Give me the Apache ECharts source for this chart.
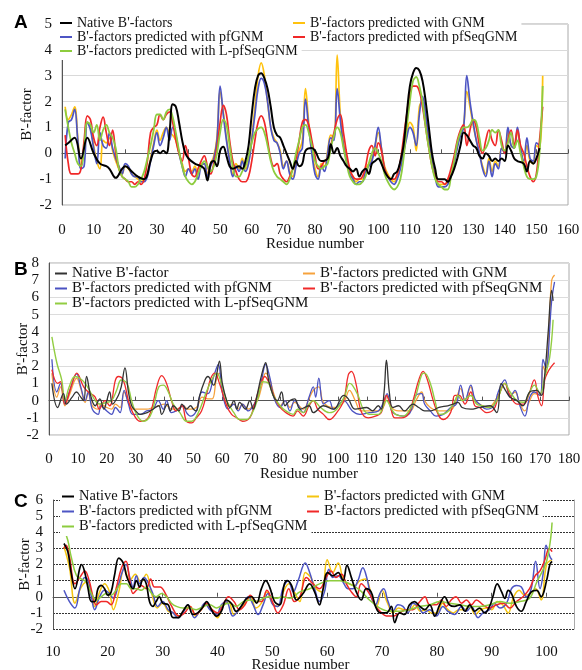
<!DOCTYPE html>
<html>
<head>
<meta charset="utf-8">
<script src="https://cdn.jsdelivr.net/npm/echarts@6/dist/echarts.min.js"></script>
<style>
  html, body { margin: 0; padding: 0; background: #fff; }
  #chart { width: 582px; height: 670px; }
</style>
</head>
<body>
<div id="chart"></div>
<script>
"use strict";
// 数据：残基号与B'-factor
var nativeA = [[1,0.3],[2,0.4],[4,0.6],[6,-0.2],[8,0.6],[10,0],[12,-0.4],[14,-0.5],[15,-0.6],[17,-0.95],[19,-0.6],[20,-0.5],[22,-0.7],[24,-0.9],[26,-1.0],[28,-0.3],[29,0.05],[30,0.1],[31,0],[32,0.1],[33,0],[34,0.8],[35,1.9],[36,1.8],[37,1.2],[38,0.5],[39,0],[40,-0.2],[42,-0.4],[44,-0.5],[45,-0.6],[46,-1.05],[47,-0.4],[48,-0.3],[49,-0.5],[50,0.1],[51,0.25],[52,-0.1],[53,-0.5],[54,-0.6],[56,-0.5],[57,-0.6],[58,-0.3],[59,0.3],[60,1.5],[61,2.5],[62,3.0],[63,3.1],[64,2.9],[65,2.5],[66,1.8],[67,1.0],[68,0.7],[69,0.6],[70,0.3],[72,-0.3],[73,-0.6],[74,-0.3],[75,-0.5],[76,-0.4],[77,0.1],[79,0.2],[80,0.1],[82,-0.3],[84,-0.2],[85,0.35],[86,0],[87,0.2],[88,-0.1],[89,-0.3],[90,-0.5],[91,-0.6],[92,-0.7],[93,-0.6],[94,-0.9],[95,-0.7],[96,-0.6],[97,-0.8],[98,-0.4],[99,-0.3],[100,-0.2],[101,-0.4],[102,-0.7],[103,-0.9],[104,-1.0],[105,-0.8],[106,-0.7],[107,-0.3],[108,0.3],[109,1.5],[110,2.6],[111,3.1],[112,3.3],[113,3.2],[114,2.8],[115,2.0],[116,1.0],[117,0],[118,-0.6],[119,-1.0],[121,-1.0],[122,-1.1],[123,-0.9],[124,-0.6],[125,-0.2],[126,0.3],[127,0.8],[128,0.7],[129,0.5],[130,0.3],[131,0.2],[132,-0.1],[133,-0.2],[134,0],[135,-0.1],[136,-0.3],[137,-0.2],[138,-0.3],[139,-0.2],[140,-0.3],[141,0.3],[142,0.1],[143,-0.2],[144,-0.3],[146,-0.4],[147,-0.7],[148,-0.3],[149,-0.4],[150,-0.2],[151,0.2]];
var gnmA = [[1,1.8],[2,1.3],[3,1.5],[4,1.8],[5,0.6],[6,-0.5],[7,0.3],[8,1.2],[9,1.0],[10,0.3],[11,-0.3],[12,-0.6],[13,0.5],[14,0.4],[15,0.6],[16,0.1],[17,-0.3],[18,-0.6],[19,-0.8],[20,-0.5],[21,-0.6],[22,-0.8],[23,-0.9],[24,-1.0],[25,-1.1],[26,-1.0],[27,-0.8],[28,-0.2],[29,0.4],[30,0.9],[31,0.5],[32,0.8],[33,1.0],[34,0.8],[35,0.7],[36,0.5],[37,0],[38,-0.4],[39,-0.7],[40,-0.6],[41,-0.7],[42,-0.5],[43,-0.8],[44,-0.4],[45,-0.4],[46,-0.8],[47,-0.4],[48,-0.1],[49,0.6],[50,2.4],[51,1.6],[52,0.6],[53,-0.2],[54,-0.8],[55,-0.4],[56,-0.6],[57,-0.2],[58,-0.6],[59,-0.3],[60,0.6],[61,1.8],[62,3.0],[63,3.5],[64,3.0],[65,2.0],[66,1.0],[67,0.6],[68,0.4],[69,0.1],[70,-0.5],[71,-0.3],[72,-0.7],[73,-0.9],[74,-0.4],[75,0.1],[76,0.5],[77,2.5],[78,1.2],[79,0.1],[80,-0.6],[81,-0.9],[82,-0.4],[83,-0.5],[84,0.1],[85,0.7],[86,0.6],[87,3.8],[88,1.5],[89,0.4],[90,-0.2],[91,-0.7],[92,-0.9],[93,-1.1],[94,-1.0],[95,-1.0],[96,-0.6],[97,-0.4],[98,-0.2],[99,0.3],[100,0.8],[101,0.2],[102,-0.5],[103,-0.8],[104,-1.0],[105,-1.1],[106,-0.9],[107,-0.5],[108,0.1],[109,0.7],[110,1.2],[111,1.0],[112,0.1],[113,1.8],[114,2.0],[115,1.4],[116,0.5],[117,-0.2],[118,-0.8],[119,-1.2],[120,-1.2],[121,-1.2],[122,-1.1],[123,-0.8],[124,-0.3],[125,0.3],[126,0.8],[127,1.1],[128,2.4],[129,1.8],[130,1.1],[131,0.5],[132,0],[133,-0.5],[134,-0.8],[135,-0.2],[136,-0.7],[137,-0.3],[138,-0.5],[139,0.2],[140,0.1],[141,0.8],[142,0.3],[143,0.2],[144,0.8],[145,0.2],[146,-0.4],[147,0.3],[148,-0.3],[149,-0.4],[150,0.3],[151,0.2],[152,3.0]];
var pfgnmA = [[1,-0.2],[2,1.2],[3,1.3],[4,1.7],[5,0.5],[6,-0.6],[7,-0.5],[8,1.2],[9,0.9],[10,0.2],[11,-0.4],[12,0.8],[13,0.3],[14,0.2],[15,0.8],[16,0.2],[17,-0.2],[18,-0.5],[19,-0.8],[20,-0.4],[21,-0.5],[22,-0.8],[23,-0.9],[24,-0.9],[25,-1.1],[26,-1.1],[27,-0.9],[28,-0.3],[29,0.3],[30,0.8],[31,0.3],[32,0.6],[33,1.0],[34,0.5],[35,1.0],[36,0.7],[37,0],[38,-0.5],[39,-0.9],[40,-0.6],[41,-0.8],[42,-0.6],[43,-1.0],[44,-0.5],[45,-0.4],[46,-0.9],[47,-0.5],[48,-0.2],[49,0.5],[50,2.6],[51,1.5],[52,0.5],[53,-0.3],[54,-0.9],[55,-0.5],[56,-0.7],[57,-0.3],[58,-0.7],[59,-0.4],[60,0.5],[61,1.5],[62,2.5],[63,2.9],[64,2.7],[65,2.0],[66,1.0],[67,0.5],[68,0.4],[69,0],[70,-0.6],[71,-0.3],[72,-0.8],[73,-1.0],[74,-0.5],[75,0],[76,0.2],[77,2.1],[78,1.0],[79,0],[80,-0.8],[81,-1.0],[82,-0.5],[83,-0.7],[84,0],[85,0.6],[86,0.5],[87,2.5],[88,1.3],[89,0.3],[90,-0.3],[91,-0.8],[92,-1.0],[93,-1.2],[94,-1.1],[95,-1.1],[96,-0.7],[97,-0.5],[98,-0.3],[99,0.3],[100,1.0],[101,0.2],[102,-0.6],[103,-0.9],[104,-1.1],[105,-1.2],[106,-1.0],[107,-0.6],[108,0],[109,0.6],[110,1.0],[111,0.8],[112,0.3],[113,1.5],[114,2.2],[115,1.5],[116,0.5],[117,-0.3],[118,-0.9],[119,-1.3],[120,-1.3],[121,-1.3],[122,-1.2],[123,-0.9],[124,-0.4],[125,0.2],[126,0.7],[127,1.0],[128,3.0],[129,2.0],[130,1.2],[131,0.5],[132,0],[133,-0.6],[134,-0.9],[135,-0.3],[136,-0.9],[137,-0.4],[138,-0.6],[139,0.2],[140,0],[141,1.0],[142,0.3],[143,0.2],[144,1.0],[145,0.2],[146,-0.3],[147,0.6],[148,-0.2],[149,-0.3],[150,0.4],[151,0.3]];
var pfseqA = [[1,0.7],[2,-0.4],[3,-0.8],[5,-0.8],[6,-0.6],[7,0.5],[8,1.45],[9,1.3],[10,0.6],[11,0.3],[12,1.0],[13,1.4],[14,0.8],[15,0.3],[16,0.9],[17,0],[18,-0.6],[19,-0.9],[20,-1.0],[21,-1.1],[22,-1.1],[23,-1.2],[24,-1.1],[25,-1.2],[26,-1.0],[27,-0.3],[28,0.8],[29,1.0],[30,1.1],[31,1.5],[32,1.3],[33,1.5],[34,1.6],[35,1.2],[36,0.5],[37,0],[38,-0.3],[39,0.3],[40,-0.2],[41,-0.8],[42,-0.9],[43,-0.6],[44,-0.3],[45,-0.1],[46,-0.5],[47,-0.8],[48,-0.4],[49,0.2],[50,1.2],[51,1.85],[52,1.5],[53,0.5],[54,-0.3],[55,-0.7],[56,-1.0],[57,-1.1],[58,-1.1],[59,-0.9],[60,-0.3],[61,0.5],[62,1.2],[63,1.45],[64,1.2],[65,0.5],[66,-0.2],[67,-0.5],[68,-0.4],[69,-0.8],[70,-1.0],[71,-1.1],[72,-0.9],[73,-0.6],[74,-0.2],[75,0.5],[76,1.2],[77,1.3],[78,1.1],[79,0.5],[80,-0.1],[81,-0.6],[82,-0.5],[83,-0.3],[84,-0.2],[85,0.3],[86,0.8],[87,1.3],[88,1.5],[89,0.8],[90,0],[91,-0.6],[92,-0.9],[93,-1.0],[94,-1.0],[95,-0.9],[96,-0.5],[97,0.1],[98,0.3],[99,-0.1],[100,0.4],[101,0.1],[102,-0.6],[103,-0.9],[104,-1.0],[105,-1.0],[106,-0.8],[107,-0.3],[108,0.6],[109,1.5],[110,2.3],[111,2.6],[112,2.6],[113,2.4],[114,1.8],[115,1.0],[116,0.2],[117,-0.5],[118,-0.9],[119,-1.1],[120,-1.1],[121,-1.2],[122,-1.0],[123,-0.6],[124,-0.1],[125,0.5],[126,0.9],[127,1.1],[128,0.3],[129,0.9],[130,1.3],[131,1.0],[132,0.3],[133,0],[134,0.5],[135,0.9],[136,0.5],[137,0.3],[138,0.9],[139,0.5],[140,0],[141,0.5],[142,0.9],[143,0.3],[144,0.9],[145,0.3],[146,0],[147,-0.5],[148,-0.9],[149,-1.1],[150,-0.8],[151,0.5],[152,1.8]];
var lpfseqA = [[1,1.7],[2,1.0],[3,0.4],[4,0],[5,-0.4],[6,-0.5],[7,0.2],[8,1.2],[9,1.1],[10,0.8],[11,1.1],[12,0.5],[13,0.9],[14,1.1],[15,0.8],[16,0.6],[17,0.2],[18,-0.6],[19,-0.9],[20,-1.0],[21,-1.1],[22,-1.3],[23,-1.3],[24,-1.2],[25,-1.0],[26,-0.7],[27,-0.2],[28,0.3],[29,0.9],[30,1.5],[31,1.5],[32,1.3],[33,1.6],[34,1.7],[35,1.4],[36,0.8],[37,0.1],[38,-0.5],[39,-0.9],[40,-1.1],[41,-1.2],[42,-1.1],[43,-0.8],[44,-0.5],[45,-0.3],[46,-0.5],[47,-0.7],[48,-0.5],[49,0],[50,0.8],[51,1.3],[52,1.1],[53,0.3],[54,-0.5],[55,-0.9],[56,-0.9],[57,-0.7],[58,-0.5],[59,-0.1],[60,0.4],[61,0.8],[62,0.95],[63,1.0],[64,0.8],[65,0.3],[66,-0.3],[67,-0.7],[68,-0.9],[69,-1.0],[70,-1.1],[71,-1.2],[72,-1.0],[73,-0.6],[74,0],[75,0.5],[76,1.0],[77,1.1],[78,0.8],[79,0.3],[80,-0.3],[81,-0.5],[82,-0.6],[83,-0.5],[84,-0.4],[85,0.2],[86,0.7],[87,1.0],[88,0.8],[89,0.2],[90,-0.4],[91,-0.9],[92,-1.1],[93,-1.2],[94,-1.2],[95,-1.1],[96,-0.9],[97,-0.4],[98,0],[99,0.2],[100,0],[101,-0.3],[102,-0.8],[103,-1.1],[104,-1.3],[105,-1.4],[106,-1.3],[107,-1.0],[108,-0.2],[109,1.0],[110,2.0],[111,2.8],[112,2.95],[113,2.6],[114,2.0],[115,1.0],[116,0.2],[117,-0.5],[118,-1.0],[119,-1.2],[120,-1.3],[121,-1.4],[122,-1.4],[123,-0.9],[124,-0.3],[125,0.4],[126,0.8],[127,1.0],[128,1.0],[129,1.1],[130,1.3],[131,1.2],[132,0.6],[133,0.1],[134,0.2],[135,0.5],[136,0.9],[137,0.8],[138,0.9],[139,0.3],[140,0.1],[141,0.4],[142,0.8],[143,0.2],[144,0.5],[145,0],[146,-0.5],[147,-0.9],[148,-1.0],[149,-1.0],[150,-0.9],[151,0],[152,2.6]];

var nativeB = [[1,1.0],[3,-0.4],[5,0.4],[6,-0.2],[8,0.2],[9.5,0.5],[11,0.2],[12,0],[13,1.4],[14.4,0.3],[16,-0.3],[17.6,0.1],[19,-0.5],[20,0],[21,0.5],[22,-0.2],[24,0.3],[25,0.8],[26.3,1.9],[27.5,0.5],[28.6,-0.3],[30,-0.6],[31.5,-0.8],[34,-0.7],[36,-0.5],[38,-0.3],[39,-0.8],[41,-0.2],[42,-0.6],[43,-0.3],[45,-0.6],[46,-0.2],[47.6,-0.5],[49,-0.3],[50,-0.5],[51,-0.6],[52,0.2],[54,1.2],[55,1.4],[57,0.9],[58,1.5],[59,2.3],[60,1.0],[61.5,0],[62.6,-0.4],[64,0],[65,-0.5],[66,-0.1],[68,-0.5],[69.5,0],[70.7,-0.5],[72,0.3],[73.6,1.5],[75,2.2],[76,1.2],[77.6,0.3],[79,0],[80.5,0.5],[81.7,-0.3],[83.4,0],[85,0.1],[87,-0.5],[90,-0.3],[91.5,-0.7],[95,-0.3],[98.5,-0.5],[102,0.3],[103.6,0.1],[106,-0.5],[110,-0.4],[112,-0.6],[114,-0.3],[115,-0.5],[116,0.5],[116.8,2.35],[117.8,0.5],[119,-0.4],[121,-0.3],[123,-0.6],[126,-0.2],[128,-0.4],[130,-0.6],[132,-0.6],[135,-0.4],[138,-0.3],[140,-0.2],[141.6,-0.1],[143,-0.4],[146,-0.5],[149,-0.4],[152.7,-0.3],[155,-0.7],[156.5,1.0],[158,0.6],[159.6,0.2],[162,0],[164,-0.3],[166.4,0.5],[168.8,0.6],[170.5,0.3],[171.6,1.5],[172.8,4.0],[174,6.4],[174.5,5.8]];
var gnmB = [[1,1.6],[2.7,0.2],[4,0.8],[5.5,-0.3],[7,0.3],[9.6,1.3],[11,0.7],[12.5,-0.1],[13.6,0.4],[15,-0.3],[17,-0.5],[18,-0.2],[20,-0.4],[21.7,-0.5],[23,-0.2],[24.6,-0.4],[26,0.5],[27.5,-0.1],[29,-0.5],[31.5,-0.5],[33.8,-0.5],[36,-0.4],[37.8,-0.3],[40,-0.2],[42.4,-0.5],[44,-0.5],[46.5,-0.3],[48,-0.5],[51,-0.4],[53,0.2],[55,0.1],[56.5,0.1],[58,1.3],[59,1.6],[60,0.6],[62,-0.3],[64,-0.2],[65.5,-0.5],[67,-0.2],[69,-0.5],[70.7,-0.3],[72.4,0.1],[73.6,0.8],[75,1.6],[76.5,1.2],[78,0.3],[80,-0.3],[81.7,0],[83.4,-0.4],[85,-0.1],[88,-0.5],[90,0.1],[91.5,0.6],[93.4,0.8],[95,-0.1],[98.5,-0.4],[102,-0.1],[104,0.6],[106,0],[108,-0.6],[111,-0.6],[114,-0.6],[116,-0.3],[117,0.3],[118.6,-0.4],[121,-0.6],[125,-0.6],[127,0],[129,0.5],[130,0],[132,-0.4],[135,-0.6],[138,-0.6],[140,-0.4],[142.5,0.7],[144,0],[146,0.8],[147.4,0],[149,-0.2],[152,-0.4],[155.5,0.3],[157.8,1.0],[159.6,0.3],[161.3,0.5],[163,-0.2],[164.7,-0.6],[166.4,0],[168,0.4],[170,0.3],[171,2.0],[172,1.6],[173,4.0],[174,7.0],[175,7.3]];
var pfgnmB = [[1,2.4],[2.7,0.5],[4,1.0],[5.5,-0.2],[7,0.5],[9.6,1.55],[11,0.8],[12.5,0],[13.6,0.5],[15,-0.5],[17,-0.8],[18,-0.3],[20,-0.6],[21.7,-0.8],[23,-0.4],[24.6,-0.7],[26,0.6],[27.5,-0.2],[29,-0.8],[31.5,-0.8],[33.8,-0.6],[36,-0.5],[37.8,0],[39.6,-0.5],[40.7,0],[42.4,-0.7],[44,-0.6],[46.5,-0.3],[47.6,-0.7],[49,-0.9],[51,-0.6],[53,0.5],[55,0.4],[57,1.4],[58.6,2.1],[60,0.5],[62,-0.5],[64,-0.2],[65.5,-0.6],[67,-0.2],[69,-0.6],[70.7,-0.3],[72.4,0.3],[73.6,1.2],[75,2.1],[76.5,1.3],[78,0.1],[80,-0.4],[81.7,0],[83.4,-0.6],[85,0],[88,-0.7],[90,0.2],[91.5,0.8],[92.3,0.2],[93.4,1.3],[95,-0.2],[97,0],[98.5,-0.5],[102,0],[105,-0.6],[107.6,-0.8],[111,-0.7],[114,-0.6],[116,0],[117,0.4],[118.6,-0.6],[120,-0.8],[122.6,-0.9],[125,-0.7],[127,0.3],[129,0.4],[130,-0.2],[132,-0.6],[134,-0.9],[136.5,-0.8],[139,-0.4],[141,-0.2],[142.5,0.9],[144,0],[146,0.9],[147.4,0.1],[149,-0.2],[151.5,-0.5],[154,-0.3],[155.5,0.5],[157.8,1.2],[159.6,0.2],[161.3,0.6],[163,-0.3],[164.7,-0.9],[166.4,0.2],[168,0.5],[170,0.3],[171,2.4],[172,1.9],[174,5.8],[175,6.9]];
var pfseqB = [[1,1.8],[3,1.0],[4,1.1],[5.5,-0.2],[8,1.0],[9.6,1.6],[12,0.8],[13.6,0.5],[16,0.2],[17.4,-0.5],[19.4,0],[21,-0.3],[23,1.2],[24,1.4],[25.7,1.2],[27.5,0],[29,-0.7],[31.5,-1.2],[33.8,-1.1],[35.5,-0.5],[37.3,0.8],[39,1.45],[40.7,1.0],[42.4,0],[44,-0.6],[46,-0.3],[47.6,-1.2],[49.4,-1.3],[51,-1.0],[52.8,-0.6],[54.6,0.4],[56,1.3],[57.4,1.6],[59,1.0],[61.5,-0.3],[63.2,-0.8],[65,-1.0],[67,-1.2],[69.5,-1.0],[71,-0.3],[73,0.8],[74.7,1.4],[76.5,0.9],[78,0.2],[80,-0.4],[82,-0.7],[84.5,-0.9],[86,-0.6],[88,-0.9],[90,-0.3],[91.5,0],[93,-0.5],[95,-0.8],[97,-1.1],[99.6,-0.7],[102,0],[103.6,1.5],[104.7,1.7],[106.5,0.8],[108,-0.6],[110.5,-1.0],[113,-0.9],[115,-0.7],[116.8,0.3],[118,-0.2],[119.7,-1.0],[122,-1.0],[124.3,-0.8],[126,0],[128,1.2],[129.5,1.7],[131,1.2],[133,0],[135,-0.9],[136.5,-1.1],[139,-0.7],[140.5,0.3],[142,0.3],[144,-0.2],[146,0.5],[147.4,-0.3],[149,-0.4],[151.5,-0.7],[154,-0.5],[155.5,0.2],[157.8,1.0],[159.6,0.3],[162,-0.2],[164.3,-0.2],[166,0.3],[168,1.2],[169.3,0.2],[170.5,-0.3],[171.6,1.2],[172.8,1.7],[174,2.0],[175,2.2]];
var lpfseqB = [[1,3.7],[2.7,2.2],[4.4,1.2],[5.5,0],[7,0.8],[9,1.4],[10.7,1.3],[12.5,1.0],[14,0.6],[16,0],[17.6,-0.2],[20,-0.1],[21.7,0],[23.4,0.6],[25,1.2],[27,1.0],[28.6,0],[30.3,-0.8],[32.6,-1.2],[35,-0.9],[36.7,0],[38,0.8],[39.6,0.9],[41.3,0.5],[43,-0.2],[45.3,-0.7],[47.6,-1.2],[49.4,-1.2],[51.7,-0.7],[54,0.3],[56.3,1.2],[58,1.6],[59.7,1.0],[61.5,0],[64,-0.7],[66,-1.1],[68.4,-1.1],[70.7,-0.6],[72.4,0.2],[74,1.1],[76,1.0],[77.6,0.3],[80,-0.3],[82,-0.6],[84.5,-0.8],[86,-0.5],[88,-0.7],[90,-0.2],[91.5,0],[94,-0.4],[97,-0.7],[99.6,-0.5],[102.4,0.3],[104,1.0],[105,0.9],[107,0.3],[108.8,-0.5],[111,-0.8],[114,-0.8],[116.8,0],[118.6,-0.5],[120,-0.8],[122.6,-0.9],[125,-0.5],[127,0.3],[129,1.5],[130,1.6],[132,1.0],[133.6,0],[135.3,-0.8],[137.6,-0.7],[140,-0.2],[141.6,0.3],[143,0],[146,0.3],[148,-0.2],[150,-0.3],[152.6,-0.4],[155,0],[157.8,1.0],[159.6,0.5],[162,0],[164.3,-0.1],[166.4,0.5],[168,0.9],[170,0.4],[171.6,1.4],[173.3,2.5],[174.5,4.7]];

var nativeC = [[12,3.3],[12.7,2.8],[13.3,1.5],[14,0.5],[14.9,1.8],[15.2,2.0],[15.8,1.5],[16.4,0.5],[17,-0.3],[17.6,-0.3],[18.2,0.5],[18.8,0.7],[19.4,0.5],[20,0.1],[20.6,0.3],[21.2,1.3],[22,2.4],[22.8,2.1],[23.4,1.3],[24,0.8],[24.6,0.5],[25.2,1.0],[25.8,0.6],[26.4,1.1],[27,0.8],[27.6,-0.3],[28.2,-0.6],[28.8,-0.3],[29.4,0],[30,-0.4],[31,-0.5],[31.9,-1.3],[32.8,-1.3],[33.7,-0.9],[34.6,-0.5],[35.5,-1.1],[36.4,-1.0],[37.4,-0.6],[38,-0.3],[38.9,-0.8],[39.8,-1.2],[40.7,-0.9],[41.6,-0.2],[42.5,-0.4],[43.4,-0.9],[44.3,-0.6],[45.3,-0.1],[46.2,0],[47.1,-0.4],[48,0.5],[48.8,1.0],[49.5,0.6],[50.4,-0.3],[51.3,-0.5],[52.2,0.8],[52.7,1.0],[53.5,0.7],[54.4,-0.2],[55.6,0.2],[56.8,0.8],[57.7,0.3],[58.6,-0.5],[59.2,0.4],[60.1,1.5],[61,1.3],[62,1.5],[62.9,1.0],[63.6,1.95],[64.4,1.2],[65.3,0.3],[66.2,-0.2],[67.1,0.5],[68,0.3],[68.8,-0.6],[69.7,-1.0],[70.8,-1.0],[71.7,-0.6],[72.3,-1.6],[73.2,-1.0],[74.1,-1.1],[75,-0.5],[75.9,-0.3],[76.9,-0.6],[77.8,-0.8],[78.7,-0.5],[79.6,-1.2],[80.5,-0.5],[81.4,0],[82.3,-0.5],[83.2,-0.6],[84.2,-0.5],[85.1,-0.9],[86,-0.5],[86.9,-0.9],[87.8,-0.7],[88.7,-1.0],[89.6,-0.6],[90.2,0],[91,0.8],[91.8,0.3],[92.4,-0.1],[93,0.4],[93.6,0.2],[94.5,-0.6],[95.4,-0.9],[96.3,-0.3],[97.2,0.3],[98.2,0.4],[99,0],[100,1.0],[100.6,2.0],[101,2.2]];
var gnmC = [[12,3.1],[13,1.8],[14,-0.4],[15,0.5],[16,0.9],[17,0.3],[17.6,-0.6],[18.5,0.3],[19.4,0.8],[20.3,0.3],[21,-0.8],[22,0.3],[23,1.8],[24,1.0],[25,1.4],[26,0.9],[27,1.4],[28,0.2],[29,-0.7],[30,-0.4],[31,-0.9],[32,-1.0],[33,-1.2],[34,-0.8],[35,-0.6],[36,-1.2],[37,-0.8],[38,-0.5],[39,-0.8],[40,-1.3],[41,-0.6],[42,-0.3],[43,-1.1],[44,-0.8],[45,-0.4],[46,0],[47,-0.7],[48,-0.4],[49,0.3],[50,-0.4],[51,-0.6],[52,0.3],[53,0.8],[54,0.3],[55,-0.3],[56,1.5],[57,1.2],[58,0.5],[59,0.3],[60,2.3],[61,1.5],[62,2.1],[63,1.0],[64,0.8],[65,0.7],[66,1.0],[67,1.1],[68,0.2],[69,-0.6],[70,0.4],[71,-0.4],[72,-1.0],[73,-0.7],[74,-0.8],[75,-0.8],[76,-0.5],[77,-0.9],[78,-0.8],[79,-1.0],[80,-1.0],[81,-0.4],[82,-0.8],[83,-1.0],[84,-0.8],[85,-0.8],[86,-0.6],[87,-1.1],[88,-0.8],[89,-0.7],[90,-0.8],[91,-0.3],[92,-0.5],[93,-1.0],[94,0],[95,0.4],[96,0.1],[97,0.2],[98,0.5],[99,-0.2],[100,2.0],[101,2.3]];
var pfgnmC = [[12,0.4],[13,-0.3],[14,-0.7],[14.9,0.5],[15.8,1.2],[16.4,1.0],[17,0],[17.6,-0.8],[18.5,0],[19.4,0.4],[20.3,0.2],[21,-0.1],[21.9,0.7],[22.6,1.5],[23.3,2.0],[24,1.2],[24.6,0.6],[25.2,1.3],[25.8,0.8],[26.6,1.2],[27.3,0.9],[28.2,0.2],[29.1,-0.6],[30,-0.3],[31,-0.8],[31.9,-1.0],[32.8,-1.3],[33.7,-1.0],[34.6,-0.5],[35.8,-1.3],[36.7,-0.9],[37.7,-0.4],[38.6,-0.8],[39.8,-1.1],[40.7,-0.5],[41.6,-0.3],[42.8,-1.2],[43.7,-0.9],[44.7,-0.4],[45.6,0],[46.5,-0.5],[47.4,-1.1],[48.3,-0.5],[49.2,0.2],[50.1,-0.5],[51,-0.6],[51.9,0.5],[52.9,1.0],[53.8,0.3],[54.7,1.0],[56,2.1],[56.8,1.5],[57.7,0.5],[58.6,-0.3],[59.5,0.3],[60.3,1.7],[61,1.2],[62,1.3],[62.9,0.9],[63.8,0.5],[64.7,0.5],[65.6,1.0],[66.5,1.8],[67.2,1.2],[68,0],[68.8,-0.5],[69.6,0.2],[70.3,0.5],[71.1,-0.3],[72,-0.9],[72.9,-0.5],[73.8,-0.6],[74.7,-1.0],[75.6,-0.4],[76.6,-0.6],[77.5,-1.0],[78.7,-0.8],[79.9,-1.2],[81.1,-0.6],[82,-0.9],[83.2,-1.1],[84.5,-0.6],[85.4,-0.9],[86.3,-0.6],[87.5,-1.3],[88.4,-1.0],[89.6,-0.8],[90.5,-0.4],[91.5,-0.7],[92.7,-0.4],[93.6,0.5],[94.5,0.7],[95.4,0.6],[96.3,0],[97.2,0.5],[98,2.2],[98.8,0.5],[99.4,1.5],[99.9,3.2],[100.6,2.5],[101,2.3]];
var pfseqC = [[12,3.0],[12.4,3.2],[13,2.5],[14,0.8],[14.9,1.2],[15.8,1.6],[16.6,1.0],[17.3,0],[17.9,-0.5],[18.8,-0.3],[19.7,-0.3],[20.6,-0.5],[21.5,0.5],[22.5,1.8],[23.3,2.2],[24,1.0],[24.6,0.2],[25.2,0.4],[26.1,0.7],[27,0.5],[27.8,1.1],[28.5,0.6],[29.5,0.6],[30.5,0.2],[31.5,-0.5],[33,-1.2],[34,-1.0],[35,-0.6],[36,-1.1],[37,-0.8],[38,-0.4],[39,-0.8],[40,-1.0],[41,-0.5],[42,0],[43,-0.3],[44,-0.8],[45,-0.5],[46,0.1],[47,-0.3],[48,-0.3],[49,0.4],[50,-0.3],[51,-1.0],[52,-0.5],[53,0.5],[54,-0.3],[55,0],[56.2,1.2],[57.4,0.8],[58.6,0.5],[59.8,1.2],[60.7,1.6],[61.6,1.2],[62.6,1.4],[63.5,0.8],[64.4,0.3],[65.3,0],[66.2,0.8],[67.1,0.5],[68,0],[68.9,-0.6],[69.9,-1.0],[70.8,-1.2],[72,-1.2],[73.2,-1.0],[74.4,-0.8],[75.6,-0.8],[76.9,-0.3],[77.8,0],[78.7,-0.5],[79.9,-0.5],[80.8,-0.2],[81.7,-0.6],[82.6,-0.2],[83.5,0],[84.5,-0.4],[85.4,-0.2],[86.3,-0.5],[87.2,-0.2],[88.4,-0.5],[89.6,-0.7],[90.9,-0.5],[92.1,-0.4],[93.3,-0.7],[94.5,-0.3],[95.7,0],[96.9,0.5],[97.9,1.3],[98.8,1.6],[99.7,2.3],[100.5,3.0],[101,2.8]];
var lpfseqC = [[12,4.2],[12.7,3.5],[13.3,2.5],[14.3,1.3],[15.2,1.1],[16.1,0.9],[17,0.2],[17.9,-0.2],[18.8,0],[19.7,0.2],[20.6,0.1],[21.5,0.4],[22.5,0.8],[23.4,0.8],[24.3,0.5],[25.2,0.5],[26.1,0.4],[27,0.6],[28,0.2],[28.8,0],[29.8,0.2],[30.7,0],[31.6,-0.4],[32.5,-0.6],[33.7,-0.7],[34.9,-0.7],[36.1,-0.8],[37.4,-0.6],[38.6,-0.5],[39.8,-0.7],[41,-0.5],[42.2,-0.4],[43.4,-0.6],[44.7,-0.3],[45.9,-0.2],[47.1,-0.3],[48.3,-0.1],[49.5,0],[50.7,-0.1],[51.9,0],[53.2,-0.1],[55,0.3],[56.8,0.5],[58.6,0.8],[60.4,1.0],[62.3,1.0],[64.1,0.8],[66,0.4],[67.7,-0.2],[69.6,-0.7],[71.4,-0.9],[73.2,-0.9],[75,-0.8],[76.9,-0.6],[78.7,-0.5],[80.5,-0.3],[82.3,-0.4],[84.2,-0.5],[86,-0.6],[87.8,-0.6],[89.6,-0.5],[91.5,-0.3],[93.3,-0.4],[95.1,-0.3],[96.9,-0.1],[98.2,0.9],[99.1,1.5],[100,2.2],[100.7,3.5],[101,4.6]];

var SERIF = '"Liberation Serif", "Times New Roman", serif';

var myChart = echarts.init(document.getElementById('chart'));

function lineSeries(name, data, color, width, idx) {
    return {
        name: name, type: 'line', data: data,
        xAxisIndex: idx, yAxisIndex: idx,
        smooth: 0.4, symbol: 'none',
        lineStyle: { color: color, width: width },
        itemStyle: { color: color },
        z: 2
    };
}
function xAxisCfg(idx, min, max, margin, gap, namePad) {
    return {
        gridIndex: idx, type: 'value', min: min, max: max, interval: 10,
        name: 'Residue number', nameLocation: 'middle', nameGap: gap, nameMoveOverlap: false,
        nameTextStyle: { fontFamily: SERIF, fontSize: 15, color: '#111', padding: namePad },
        axisLine: { lineStyle: { color: '#555', width: 1 } },
        axisTick: { inside: true, length: 4, lineStyle: { color: '#555' } },
        axisLabel: { fontFamily: SERIF, fontSize: 15, color: '#111', margin: margin, showMaxLabel: max % 10 === 0 },
        splitLine: { show: false }
    };
}
function yAxisCfg(idx, min, max, split, gap) {
    return {
        gridIndex: idx, type: 'value', min: min, max: max, interval: 1,
        name: "B'-factor", nameLocation: 'middle', nameGap: gap, nameMoveOverlap: false,
        nameTextStyle: { fontFamily: SERIF, fontSize: 15, color: '#111' },
        axisLine: { show: true, lineStyle: { color: '#555', width: 1 } },
        axisTick: { show: false },
        axisLabel: { fontFamily: SERIF, fontSize: 15, color: '#111', margin: 10 },
        splitLine: { show: true, lineStyle: split }
    };
}
function legendCfg(left, top, names, size, lh, bg) {
    return {
        left: left, top: top, orient: 'vertical', itemGap: 0,
        icon: 'rect', itemWidth: 12, itemHeight: 2, padding: [2, 4, 2, 2],
        backgroundColor: bg ? '#fff' : 'transparent',
        textStyle: { fontFamily: SERIF, fontSize: size, lineHeight: lh, color: '#111' },
        formatter: function (n) { return n.split('|')[0]; },
        data: names
    };
}

var option = {
    animation: false,
    backgroundColor: '#fff',
    title: [
        { text: 'A', left: 9, top: 8, textStyle: { fontFamily: 'Liberation Sans', fontWeight: 'bold', fontSize: 19, color: '#000' } },
        { text: 'B', left: 9, top: 255, textStyle: { fontFamily: 'Liberation Sans', fontWeight: 'bold', fontSize: 19, color: '#000' } },
        { text: 'C', left: 9, top: 487, textStyle: { fontFamily: 'Liberation Sans', fontWeight: 'bold', fontSize: 19, color: '#000' } }
    ],
    grid: [
        { left: 62, top: 24, width: 506, height: 181, show: true, borderColor: '#aaa', borderWidth: 1, outerBoundsMode: 'none' },
        { left: 49, top: 263, width: 520, height: 172, show: true, borderColor: '#aaa', borderWidth: 1, outerBoundsMode: 'none' },
        { left: 53, top: 500, width: 521, height: 129, outerBoundsMode: 'none' }
    ],
    xAxis: [
        xAxisCfg(0, 0, 160, 18, 32, 0),
        xAxisCfg(1, 0, 180, 17, 32, 0),
        xAxisCfg(2, 10, 105, 16, 29, [0, 26, 0, 0])
    ],
    yAxis: [
        yAxisCfg(0, -2, 5, { color: '#d9d9d9', width: 1 }, 27),
        yAxisCfg(1, -2, 8, { color: '#dcdcdc', width: 1 }, 18),
        yAxisCfg(2, -2, 6, { color: '#333', width: 1, type: [2, 1] }, 20),
        { gridIndex: 2, type: 'value', position: 'right', min: -2, max: 6,
          axisLine: { show: true, lineStyle: { color: '#aaa' } },
          axisTick: { show: false }, axisLabel: { show: false }, splitLine: { show: false } }
    ],
    legend: [
        legendCfg(58, 14, ["Native B'-factors|A", "B'-factors predicted with pfGNM|A", "B'-factors predicted with L-pfSeqGNM|A"], 14, 13, true),
        legendCfg(291, 14, ["B'-factors predicted with GNM|A", "B'-factors predicted with pfSeqGNM|A"], 14, 13, true),
        legendCfg(53, 264, ["Native B'-factor|B", "B'-factors predicted with pfGNM|B", "B'-factors predicted with L-pfSeqGNM|B"], 15, 15, false),
        legendCfg(301, 264, ["B'-factors predicted with GNM|B", "B'-factors predicted with pfSeqGNM|B"], 15, 15, false),
        legendCfg(60, 487, ["Native B'-factors|C", "B'-factors predicted with pfGNM|C", "B'-factors predicted with L-pfSeqGNM|C"], 14.5, 13, true),
        legendCfg(305, 487, ["B'-factors predicted with GNM|C", "B'-factors predicted with pfSeqGNM|C"], 14.5, 13, true)
    ],
    series: [
        lineSeries("B'-factors predicted with GNM|A", gnmA, '#ffc20e', 1.7, 0),
        lineSeries("B'-factors predicted with pfGNM|A", pfgnmA, '#4d55c4', 1.7, 0),
        lineSeries("B'-factors predicted with pfSeqGNM|A", pfseqA, '#f02828', 1.7, 0),
        lineSeries("B'-factors predicted with L-pfSeqGNM|A", lpfseqA, '#8dcc3e', 1.8, 0),
        lineSeries("Native B'-factors|A", nativeA, '#000', 2, 0),

        lineSeries("B'-factors predicted with GNM|B", gnmB, '#f6a23c', 1.3, 1),
        lineSeries("B'-factors predicted with pfGNM|B", pfgnmB, '#4b52c2', 1.3, 1),
        lineSeries("B'-factors predicted with pfSeqGNM|B", pfseqB, '#f02a2a', 1.3, 1),
        lineSeries("B'-factors predicted with L-pfSeqGNM|B", lpfseqB, '#92cd42', 1.4, 1),
        lineSeries("Native B'-factor|B", nativeB, '#333', 1.3, 1),

        lineSeries("B'-factors predicted with GNM|C", gnmC, '#f5c510', 1.5, 2),
        lineSeries("B'-factors predicted with pfGNM|C", pfgnmC, '#4d55c4', 1.5, 2),
        lineSeries("B'-factors predicted with pfSeqGNM|C", pfseqC, '#f02828', 1.5, 2),
        lineSeries("B'-factors predicted with L-pfSeqGNM|C", lpfseqC, '#8dcc3e', 1.5, 2),
        lineSeries("Native B'-factors|C", nativeC, '#000', 1.7, 2)
    ]
};
myChart.setOption(option);

window.onresize = function () {
    myChart.resize();
};
</script>
</body>
</html>
